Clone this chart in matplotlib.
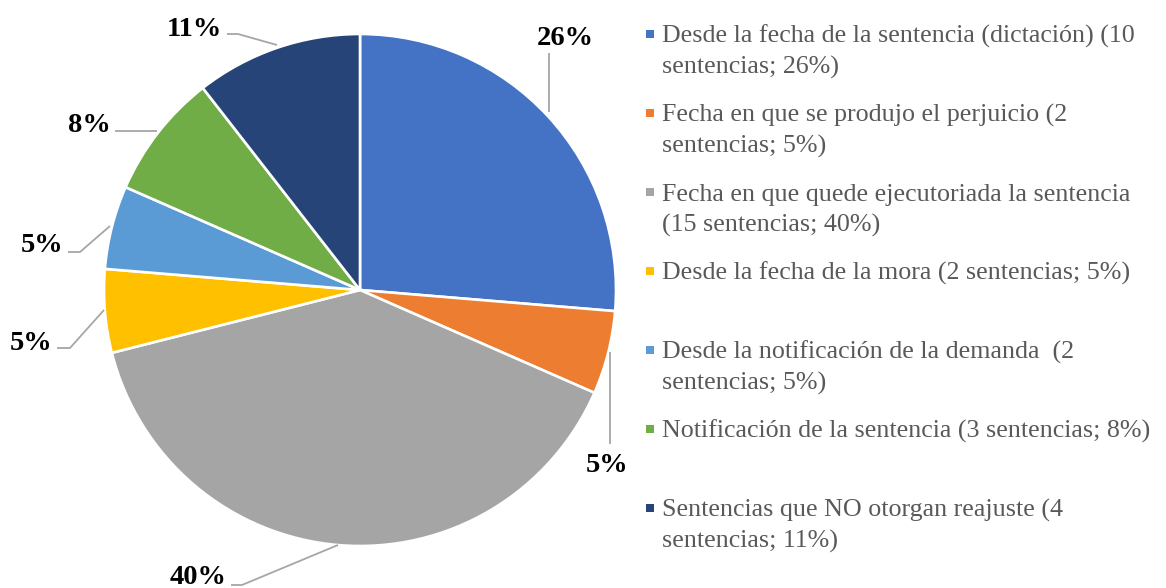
import matplotlib.pyplot as plt

# Data
labels = [
    "Desde la fecha de la sentencia (dictación) (10\nsentencias; 26%)",
    "Fecha en que se produjo el perjuicio (2\nsentencias; 5%)",
    "Fecha en que quede ejecutoriada la sentencia\n(15 sentencias; 40%)",
    "Desde la fecha de la mora (2 sentencias; 5%)",
    "Desde la notificación de la demanda  (2\nsentencias; 5%)",
    "Notificación de la sentencia (3 sentencias; 8%)",
    "Sentencias que NO otorgan reajuste (4\nsentencias; 11%)",
]
counts = [10, 2, 15, 2, 2, 3, 4]
pct_labels = ["26%", "5%", "40%", "5%", "5%", "8%", "11%"]
colors = ["#4472C4", "#ED7D31", "#A5A5A5", "#FFC000", "#5B9BD5", "#70AD47", "#264478"]

W, H = 1166, 588
fig = plt.figure(figsize=(W / 100, H / 100), dpi=100)
ax = fig.add_axes([0, 0, 1, 1])


def Y(py):
    # pixel row (top-down) -> data y
    return H - py


ax.pie(counts, colors=colors, startangle=90, counterclock=False,
       center=(360, Y(290)), radius=256, frame=True,
       wedgeprops=dict(edgecolor="white", linewidth=1.9))
ax.set_xlim(0, W)
ax.set_ylim(0, H)
ax.set_aspect("equal")
ax.axis("off")

# percentage labels: text position and leader line (pixel coords)
label_pos = [(565, 45), (607, 472), (198, 584), (31, 350), (42, 252), (89, 132), (194, 36)]
leaders = [
    [(549, 53), (549, 112)],
    [(610, 444), (610, 352)],
    [(231, 585), (242, 585), (338, 545)],
    [(57, 348), (70, 348), (104, 310)],
    [(68, 252), (80, 252), (110, 226)],
    [(115, 131), (157, 131)],
    [(227, 34), (238, 34), (277, 45)],
]
serif = ["Liberation Serif", "DejaVu Serif"]
for txt, (px, py), pts in zip(pct_labels, label_pos, leaders):
    ax.text(px, Y(py), txt, ha="center", va="baseline", fontsize=20.5,
            fontweight="bold", family=serif, color="black")
    ax.plot([p[0] for p in pts], [Y(p[1]) for p in pts], color="#A6A6A6", lw=1.3,
            solid_capstyle="butt")

# legend drawn by hand
x_mark, x_text = 650, 662
for i, (lab, c) in enumerate(zip(labels, colors)):
    base = 42.5 + 79 * i
    ax.scatter([x_mark], [Y(base - 8.5)], marker="s", s=40, color=c, linewidths=0)
    for j, line in enumerate(lab.split("\n")):
        ax.text(x_text, Y(base + 31.5 * j), line, ha="left", va="baseline",
                fontsize=18.7, family=serif, color="#595959")

fig.savefig("out.png", dpi=100)
